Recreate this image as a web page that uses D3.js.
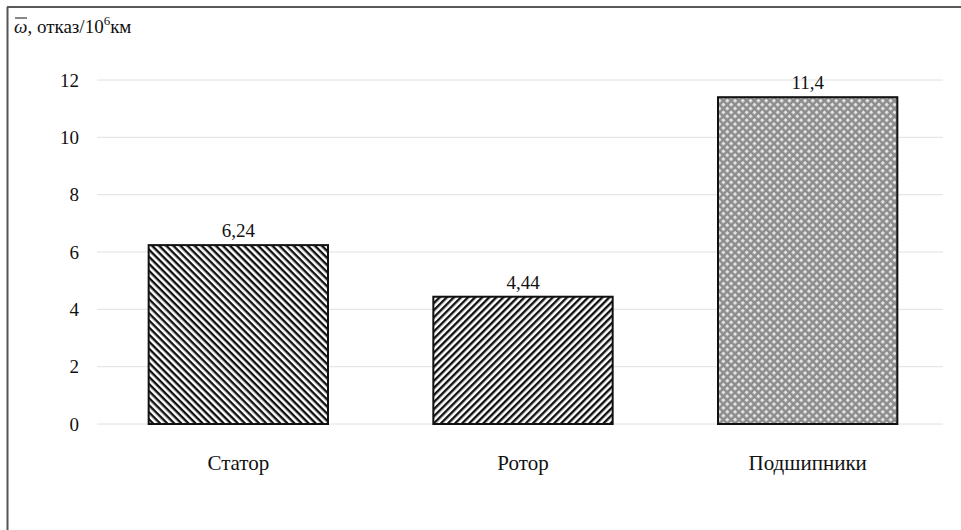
<!DOCTYPE html>
<html><head><meta charset="utf-8">
<script src="https://cdn.jsdelivr.net/npm/d3@7"></script>
<style>body{margin:0;background:#fff}svg{display:block}</style>
</head><body>
<script>
const categories = ["Статор", "Ротор", "Подшипники"];
const values = [6.24, 4.44, 11.4];
const valueLabels = ["6,24", "4,44", "11,4"];
const yTicks = [0, 2, 4, 6, 8, 10, 12];
const patternIds = ["pStator", "pRotor", "pBearing"];
const SERIF = "'Liberation Serif', 'DejaVu Serif', 'Noto Serif', serif";

const W = 961, H = 530;
const svg = d3.select("body").append("svg").attr("width", W).attr("height", H)
  .style("font-family", SERIF);
const defs = svg.append("defs");

// patterns
const p1 = defs.append("pattern").attr("id", "pStator").attr("patternUnits", "userSpaceOnUse")
  .attr("width", 5).attr("height", 5).attr("patternTransform", "rotate(45)");
p1.append("rect").attr("width", 5).attr("height", 5).attr("fill", "#fff");
p1.append("rect").attr("width", 5).attr("height", 2.4).attr("fill", "#111");
const p2 = defs.append("pattern").attr("id", "pRotor").attr("patternUnits", "userSpaceOnUse")
  .attr("width", 5).attr("height", 5).attr("patternTransform", "rotate(-45)");
p2.append("rect").attr("width", 5).attr("height", 5).attr("fill", "#fff");
p2.append("rect").attr("width", 5).attr("height", 2.4).attr("fill", "#111");
const p3 = defs.append("pattern").attr("id", "pBearing").attr("patternUnits", "userSpaceOnUse")
  .attr("width", 5.5).attr("height", 5.5).attr("patternTransform", "rotate(45)");
p3.append("rect").attr("width", 5.5).attr("height", 5.5).attr("fill", "#8c8c8c");
p3.append("rect").attr("x", 1).attr("y", 1).attr("width", 3).attr("height", 3).attr("fill", "#e6e6e6");

// frame
svg.append("line").attr("x1", 7).attr("x2", W).attr("y1", 7).attr("y2", 7).attr("stroke", "#222").attr("stroke-width", 1.5);
svg.append("line").attr("x1", 7.5).attr("x2", 7.5).attr("y1", 7).attr("y2", H).attr("stroke", "#555").attr("stroke-width", 2);

const x = d3.scaleBand().domain(categories).range([96, 950]).paddingInner(0.37).paddingOuter(0.185);
const y = d3.scaleLinear().domain([0, 12]).range([424, 80]);

// gridlines
svg.append("g").selectAll("line").data(yTicks).join("line")
  .attr("x1", 97).attr("x2", 943)
  .attr("y1", d => y(d)).attr("y2", d => y(d))
  .attr("stroke", "#e0e0e0").attr("stroke-width", 1);

// y axis labels
const yAxis = d3.axisLeft(y).tickValues(yTicks).tickSize(0).tickPadding(0).tickFormat(d3.format("d"));
const gy = svg.append("g").attr("transform", "translate(79,0)").call(yAxis);
gy.attr("font-family", null);
gy.select(".domain").remove();
gy.selectAll("text").style("font-family", SERIF).attr("font-size", 19).attr("fill", "#111");

// bars
svg.append("g").selectAll("rect").data(values).join("rect")
  .attr("x", (d, i) => x(categories[i]))
  .attr("width", x.bandwidth())
  .attr("y", d => y(d))
  .attr("height", d => y(0) - y(d))
  .attr("fill", (d, i) => `url(#${patternIds[i]})`)
  .attr("stroke", "#111").attr("stroke-width", 2);

// value labels
svg.append("g").selectAll("text").data(values).join("text")
  .attr("x", (d, i) => x(categories[i]) + x.bandwidth() / 2)
  .attr("y", d => y(d) - 8)
  .attr("text-anchor", "middle")
  .style("font-family", SERIF)
  .attr("font-size", 19).attr("fill", "#111")
  .text((d, i) => valueLabels[i]);

// x axis labels
const xAxis = d3.axisBottom(x).tickSize(0).tickPadding(0);
const gx = svg.append("g").attr("transform", "translate(0,470)").call(xAxis);
gx.attr("font-family", null);
gx.select(".domain").remove();
gx.selectAll("text").style("font-family", SERIF).attr("font-size", 21).attr("fill", "#111").attr("dy", "0");

// title
const t = svg.append("text").attr("x", 14).attr("y", 33).style("font-family", SERIF).attr("font-size", 19).attr("fill", "#111");
t.append("tspan").attr("font-style", "italic").text("ω");
t.append("tspan").text(", отказ/10");
t.append("tspan").attr("font-size", 13).attr("dy", -8).text("6");
t.append("tspan").attr("dy", 8).text("км");
svg.append("line").attr("x1", 15).attr("x2", 27).attr("y1", 18).attr("y2", 18).attr("stroke", "#111").attr("stroke-width", 1);
</script>
</body></html>
